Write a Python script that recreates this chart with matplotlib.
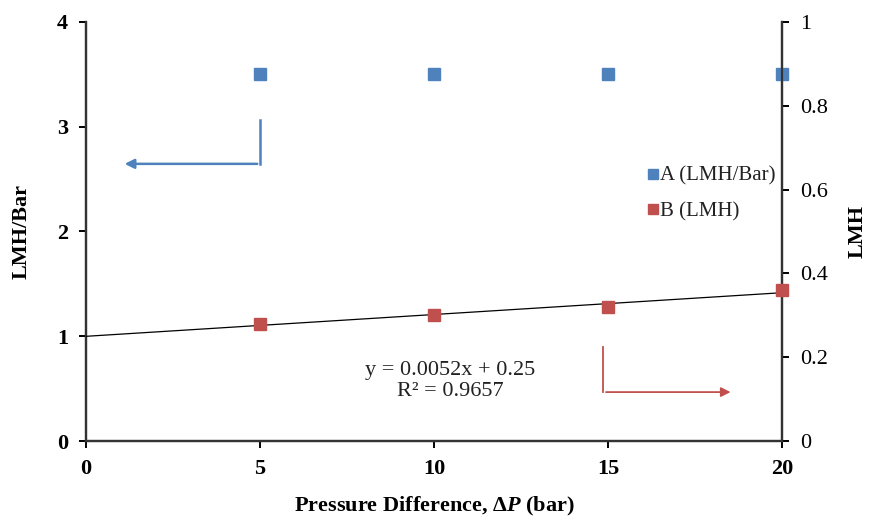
import numpy as np
import matplotlib.pyplot as plt

plt.rcParams["font.family"] = ["Liberation Serif", "DejaVu Serif"]
plt.rcParams["mathtext.fontset"] = "custom"
plt.rcParams["mathtext.it"] = "Liberation Serif:italic:bold"
plt.rcParams["mathtext.rm"] = "Liberation Serif:bold"

# data
pressure = [5, 10, 15, 20]
a_lmh_bar = [3.5, 3.5, 3.5, 3.5]
b_lmh = [0.28, 0.30, 0.32, 0.36]
x_ticks = [0, 5, 10, 15, 20]
left_ticks = [0, 1, 2, 3, 4]
right_ticks = [0, 0.2, 0.4, 0.6, 0.8, 1]
right_tick_labels = ["0", "0.2", "0.4", "0.6", "0.8", "1"]

blue = "#4F81BD"
red = "#C0504D"

fig = plt.figure(figsize=(8.69, 5.19), dpi=100)
ax = fig.add_axes([0.099, 0.150, 0.801, 0.808])
ax2 = ax.twinx()

ax.plot(pressure, a_lmh_bar, "s", color=blue, markersize=9, label="A (LMH/Bar)",
        clip_on=False, zorder=5)
ax2.plot(pressure, b_lmh, "s", color=red, markersize=9, label="B (LMH)",
         clip_on=False, zorder=5)

# linear trendline on B
slope, intercept = np.polyfit(pressure, b_lmh, 1)
xs = np.array([0, 20])
ax2.plot(xs, slope * xs + intercept, color="black", lw=0.9, zorder=4)
ax2.text(10.46, 0.143, "y = 0.0052x + 0.25\nR² = 0.9657", ha="center", va="center",
         fontsize=16, color="#222222", linespacing=1.12)

ax.set_xlim(0, 20)
ax.set_ylim(0, 4)
ax2.set_ylim(0, 1)
ax.set_xticks(x_ticks)
ax.set_yticks(left_ticks)
ax2.set_yticks(right_ticks)
ax2.set_yticklabels(right_tick_labels)

for a in (ax, ax2):
    a.spines["top"].set_visible(False)
    for s in a.spines.values():
        s.set_linewidth(1.6)
        s.set_color("#333333")

ax.tick_params(axis="both", direction="out", length=5, width=1.4, labelsize=16)
ax2.tick_params(axis="y", direction="out", length=5, width=1.4, labelsize=16, pad=8)
for lbl in ax.get_xticklabels() + ax.get_yticklabels():
    lbl.set_fontweight("bold")
ax.tick_params(axis="x", pad=8)
ax.tick_params(axis="y", pad=8)

ax.set_xlabel("Pressure Difference, \u0394$\\mathit{P}$ (bar)", fontsize=16,
              fontweight="bold", labelpad=11)
ax.set_ylabel("LMH/Bar", fontsize=16, fontweight="bold", labelpad=18)
ax2.set_ylabel("LMH", fontsize=16, fontweight="bold", labelpad=14)

# direction arrows
ax.annotate("", xy=(1.03, 2.645), xytext=(5.0, 2.645),
            arrowprops=dict(arrowstyle="-|>", color=blue, lw=1.8, mutation_scale=14))
ax.plot([5.0, 5.0], [3.06, 2.645], color=blue, lw=1.8)
ax2.annotate("", xy=(18.6, 0.117), xytext=(14.86, 0.117),
             arrowprops=dict(arrowstyle="-|>", color=red, lw=1.3, mutation_scale=14))
ax2.plot([14.86, 14.86], [0.224, 0.117], color=red, lw=1.3)

h1, l1 = ax.get_legend_handles_labels()
h2, l2 = ax2.get_legend_handles_labels()
leg = ax2.legend(h1 + h2, l1 + l2, loc="upper left", bbox_to_anchor=(0.78, 0.7),
                 frameon=False, fontsize=15, handlelength=0.5, handletextpad=0.1,
                 labelspacing=0.75, markerscale=0.8)
for t in leg.get_texts():
    t.set_color("#222222")

fig.savefig("out.png", dpi=100)
